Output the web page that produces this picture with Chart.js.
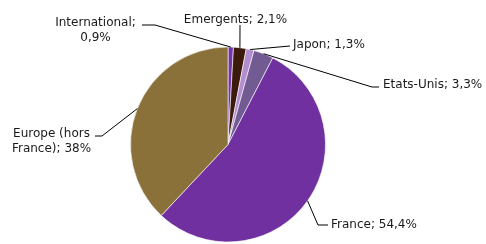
<!DOCTYPE html>
<html>
<head>
<meta charset="utf-8">
<script src="https://cdn.jsdelivr.net/npm/chart.js@4/dist/chart.umd.min.js"></script>
<style>
  html, body { margin: 0; padding: 0; background: #ffffff; }
  canvas { display: block; }
</style>
</head>
<body>
<canvas id="c" width="486" height="244"></canvas>
<script>
// ---- Data ----
const categories = ["International", "Emergents", "Japon", "Etats-Unis", "France", "Europe (hors France)"];
const values = [0.9, 2.1, 1.3, 3.3, 54.4, 38];
const colors = ["#7636AA", "#3C1A0C", "#B28DD0", "#725A92", "#7030A0", "#8A7039"];

// ---- Label layout (positions only) ----
const labelLayout = [
  { wrap: "; ",     align: "center", x: 95.5, y: 26,  elbow: [155, 25],   end: [142, 25] },
  { wrap: null,     align: "center", x: 235.5, y: 23, elbow: [240, 25],   end: [240, 25] },
  { wrap: null,     align: "left",   x: 293, y: 48,   elbow: [290, 46],   end: [290, 46] },
  { wrap: null,     align: "left",   x: 383, y: 88,   elbow: [372, 87],   end: [379, 87] },
  { wrap: null,     align: "left",   x: 331, y: 228,  elbow: [318, 225],  end: [328, 225] },
  { wrap: "(hors ", align: "center", x: 51.5, y: 137, elbow: [102, 136],  end: [95, 136] }
];

function fmt(v) { return String(v).replace(".", ",") + "%"; }

const leaderPlugin = {
  id: "leaders",
  afterDatasetsDraw(chart) {
    const ctx = chart.ctx;
    const meta = chart.getDatasetMeta(0);
    ctx.save();
    ctx.font = "12px 'DejaVu Sans'";
    ctx.fillStyle = "#1a1a1a";
    ctx.strokeStyle = "#000000";
    ctx.lineWidth = 1;
    ctx.textBaseline = "alphabetic";
    meta.data.forEach((arc, i) => {
      const p = arc.getProps(["x", "y", "startAngle", "endAngle", "outerRadius"], true);
      const mid = (p.startAngle + p.endAngle) / 2;
      const sx = p.x + Math.cos(mid) * p.outerRadius;
      const sy = p.y + Math.sin(mid) * p.outerRadius;
      const L = labelLayout[i];
      ctx.beginPath();
      ctx.moveTo(sx, sy);
      ctx.lineTo(L.elbow[0], L.elbow[1]);
      ctx.lineTo(L.end[0], L.end[1]);
      ctx.stroke();
      let text = categories[i] + "; " + fmt(values[i]);
      if (L.wrap) text = text.replace(L.wrap, L.wrap.trimEnd() + "\n");
      const lines = text.split("\n");
      ctx.textAlign = L.align;
      lines.forEach((ln, k) => ctx.fillText(ln, L.x, L.y + k * 15));
    });
    ctx.restore();
  }
};

new Chart(document.getElementById("c"), {
  type: "pie",
  data: {
    labels: categories,
    datasets: [{
      data: values,
      backgroundColor: colors,
      borderColor: "rgba(255,255,255,0.6)",
      borderWidth: 1
    }]
  },
  options: {
    responsive: false,
    animation: false,
    layout: { padding: { top: 46, bottom: 1, left: 130, right: 160 } },
    plugins: {
      legend: { display: false },
      tooltip: { enabled: false }
    }
  },
  plugins: [leaderPlugin]
});
</script>
</body>
</html>
